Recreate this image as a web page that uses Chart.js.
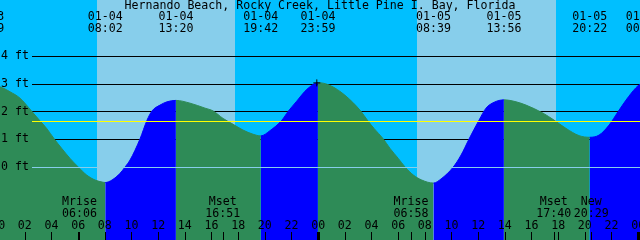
<!DOCTYPE html>
<html lang="en">

<head>
    <meta charset="UTF-8" />
    <title>Hernando Beach tide</title>
    <script src="https://cdn.jsdelivr.net/npm/chart.js"></script>
    <style>
        body { margin: 0; background: #00BFFF; }
        canvas { display: block; }
    </style>
</head>

<body>
    <canvas id="tideChart" width="640" height="240"></canvas>
</body>

<script>
    // hours counted from 01-04 00:00, heights in feet
    const hours = [-0.85, 0.14, 0.89, 1.64, 2.50, 3.09, 3.64, 4.21, 4.77, 5.39, 6.01, 6.64, 7.27, 7.87,
        8.033, 8.54, 9.14, 9.52, 9.89, 10.64, 11.17, 11.54, 12.14, 12.67,
        13.333, 14.39, 15.52, 16.12, 16.87, 17.62, 18.37, 19.12,
        19.7, 20.39, 21.27, 21.76, 22.39, 23.01, 23.52,
        23.983, 24.89, 26.0, 27.19, 27.69, 28.19, 28.89, 29.39, 30.01, 30.52, 31.14, 31.77,
        32.65, 33.22, 34.12, 34.72, 35.32, 36.07, 36.59, 37.19,
        37.933, 38.84, 39.59, 40.87, 41.69, 42.59, 43.57,
        44.367, 45.07, 45.82, 46.49, 47.09, 47.84, 48.14, 48.383];
    const heights = [2.97, 2.89, 2.71, 2.48, 2.02, 1.69, 1.39, 1.01, 0.67, 0.31, 0.0, -0.29, -0.47, -0.55,
        -0.56, -0.47, -0.23, 0.0, 0.25, 1.01, 1.69, 2.02, 2.23, 2.35,
        2.40, 2.30, 2.12, 2.02, 1.75, 1.54, 1.33, 1.18,
        1.12, 1.31, 1.68, 2.01, 2.37, 2.73, 2.94,
        3.04, 2.94, 2.59, 2.02, 1.69, 1.39, 1.01, 0.67, 0.31, 0.0, -0.29, -0.47,
        -0.58, -0.43, -0.01, 0.43, 1.01, 1.69, 2.12, 2.33,
        2.42, 2.35, 2.23, 1.94, 1.69, 1.39, 1.13,
        1.07, 1.15, 1.51, 1.99, 2.41, 2.86, 2.98, 3.02];

    const eventHours = [-0.85, 8.033, 13.333, 19.7, 23.983, 32.65, 37.933, 44.367, 48.383];
    const eventDates = ['01-03', '01-04', '01-04', '01-04', '01-04', '01-05', '01-05', '01-05', '01-06'];
    const eventTimes = ['23:09', '08:02', '13:20', '19:42', '23:59', '08:39', '13:56', '20:22', '00:23'];

    const moonHours = [6.1, 16.85, 30.967, 41.667, 44.483];
    const moonNames = ['Mrise', 'Mset', 'Mrise', 'Mset', 'New'];
    const moonTimes = ['06:06', '16:51', '06:58', '17:40', '20:29'];

    const sunriseHours = [7.415, 31.39];
    const sunsetHours = [17.765, 41.82];

    const footTicks = [0, 1, 2, 3, 4];
    const footLabels = ['0 ft', '1 ft', '2 ft', '3 ft', '4 ft'];
    const meanLevel = 1.66;
    const hourTicks = [0, 2, 4, 6, 8, 10, 12, 14, 16, 18, 20, 22, 24, 26, 28, 30, 32, 34, 36, 38, 40, 42, 44, 46, 48];

    const markHours = [23.9];
    const markHeights = [3.03];

    const title = 'Hernando Beach, Rocky Creek, Little Pine I. Bay, Florida';

    const nightColor = '#00BFFF';
    const dayColor = '#87CEEB';
    const floodColor = '#0000FF';
    const ebbColor = '#2E8B57';
    const font = '11.6px "DejaVu Sans Mono"';

    const tidePoints = hours.map((h, i) => ({ x: h, y: heights[i] }));
    const markPoints = markHours.map((h, i) => ({ x: h, y: markHeights[i] }));

    function segColor(c) {
        return c.p1.parsed.y > c.p0.parsed.y ? floodColor : ebbColor;
    }

    const tidePlugin = {
        id: 'tide',
        beforeDatasetsDraw(chart) {
            const { ctx, scales: { x, y } } = chart;
            ctx.save();
            ctx.fillStyle = nightColor;
            ctx.fillRect(0, 0, chart.width, chart.height);
            ctx.fillStyle = dayColor;
            for (let i = 0; i < sunriseHours.length; i++) {
                const x0 = Math.round(x.getPixelForValue(sunriseHours[i]));
                const x1 = Math.round(x.getPixelForValue(sunsetHours[i]));
                ctx.fillRect(x0, 0, x1 - x0, chart.height);
            }
            ctx.fillStyle = '#000';
            footTicks.forEach(ft => {
                if (ft === 0) return;
                const py = Math.floor(y.getPixelForValue(ft) + 0.4);
                ctx.fillRect(32, py, chart.width - 32, 1);
            });
            ctx.restore();
        },
        afterDatasetsDraw(chart) {
            const { ctx, scales: { x, y } } = chart;
            ctx.save();
            // datum and mean level lines sit on top of the water
            ctx.fillStyle = dayColor;
            ctx.fillRect(32, Math.floor(y.getPixelForValue(0) + 0.4), chart.width - 32, 1);
            ctx.fillStyle = '#FFFF00';
            ctx.fillRect(32, Math.floor(y.getPixelForValue(meanLevel) + 0.4), chart.width - 32, 1);

            ctx.fillStyle = '#000';
            ctx.font = font;
            ctx.textBaseline = 'middle';

            ctx.textAlign = 'left';
            footTicks.forEach((ft, i) => {
                ctx.fillText(footLabels[i], 1, y.getPixelForValue(ft));
            });

            ctx.textAlign = 'center';
            ctx.fillText(title, 320, 5.5);
            eventHours.forEach((h, i) => {
                const px = x.getPixelForValue(h);
                ctx.fillText(eventDates[i], px, 17);
                ctx.fillText(eventTimes[i], px, 29);
            });

            moonHours.forEach((h, i) => {
                const px = x.getPixelForValue(h);
                ctx.fillText(moonNames[i], px, 201.5);
                ctx.fillText(moonTimes[i], px, 213.5);
                ctx.fillRect(Math.round(px), 232, 1, 8);
            });

            hourTicks.forEach(h => {
                const px = x.getPixelForValue(h);
                ctx.fillText(String(h % 24).padStart(2, '0'), px, 225.5);
                if (h % 24 === 0) {
                    ctx.fillRect(Math.round(px) - 1, 232, 3, 8);
                } else {
                    ctx.fillRect(Math.round(px), 232, 1, 8);
                }
            });
            ctx.restore();
        }
    };

    const config = {
        type: 'line',
        data: {
            datasets: [{
                type: 'scatter',
                data: markPoints,
                pointStyle: 'cross',
                radius: 3.5,
                borderColor: '#000',
                borderWidth: 1,
                showLine: false
            }, {
                data: tidePoints,
                fill: 'start',
                borderWidth: 1,
                pointRadius: 0,
                cubicInterpolationMode: 'monotone',
                segment: {
                    backgroundColor: segColor,
                    borderColor: segColor
                }
            }]
        },
        options: {
            responsive: false,
            animation: false,
            devicePixelRatio: 1,
            layout: { padding: 0, autoPadding: false },
            scales: {
                x: { type: 'linear', min: 0.14, max: 48.14, display: false },
                y: { min: -2.631, max: 6.018, display: false }
            },
            plugins: {
                legend: { display: false },
                tooltip: { enabled: false }
            }
        },
        plugins: [tidePlugin]
    };

    const myChart = new Chart(document.getElementById('tideChart'), config);
</script>

</html>
